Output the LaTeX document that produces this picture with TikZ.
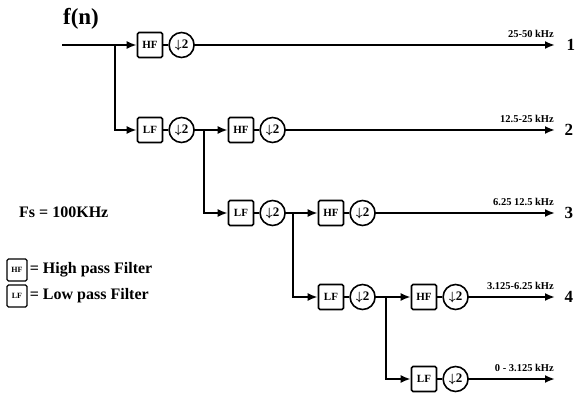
\documentclass[tikz,border=0pt]{standalone}
\usepackage{fontspec}
\setmainfont{Liberation Serif}
\usetikzlibrary{arrows.meta,positioning}

\begin{document}
\begin{tikzpicture}[x=1pt, y=-1pt,
    box/.style={draw, line width=1.6pt, rounded corners=1.5pt, minimum width=25pt,
                minimum height=25pt, inner sep=0pt, font=\bfseries\fontsize{11}{11}\selectfont},
    dsmp/.style={draw, circle, line width=1.6pt, minimum size=25pt, inner sep=0pt,
                 font=\bfseries\boldmath\fontsize{13}{13}\selectfont},
    wire/.style={line width=2pt},
    arr/.style={wire, -{Latex[length=10pt,width=8pt]}},
    band/.style={anchor=south east, inner sep=1pt, font=\bfseries\fontsize{10.5}{10.5}\selectfont},
    outno/.style={anchor=west, font=\bfseries\fontsize{17}{17}\selectfont},
    key/.style={anchor=west, inner sep=1pt, font=\bfseries\fontsize{16}{16}\selectfont}
]
    \useasboundingbox (0,0) rectangle (577,403);

    % input
    \node[font=\bfseries\fontsize{23}{23}\selectfont] (fn) at (81,19) {f(n)};
    \coordinate (in) at (62,45);

    % filter bank nodes
    \node[box]  (hf1) at (150,45)  {HF};
    \node[dsmp, right=5pt of hf1] (ds1) {$\downarrow$2};
    \node[box]  (lf1) at (150,130) {LF};
    \node[dsmp, right=5pt of lf1] (dl1) {$\downarrow$2};

    \node[box]  (hf2) at (241,130) {HF};
    \node[dsmp, right=5pt of hf2] (ds2) {$\downarrow$2};
    \node[box]  (lf2) at (241,213) {LF};
    \node[dsmp, right=5pt of lf2] (dl2) {$\downarrow$2};

    \node[box]  (hf3) at (331,213) {HF};
    \node[dsmp, right=5pt of hf3] (ds3) {$\downarrow$2};
    \node[box]  (lf3) at (331,297) {LF};
    \node[dsmp, right=5pt of lf3] (dl3) {$\downarrow$2};

    \node[box]  (hf4) at (424,297) {HF};
    \node[dsmp, right=5pt of hf4] (ds4) {$\downarrow$2};
    \node[box]  (lf4) at (424,379) {LF};
    \node[dsmp, right=5pt of lf4] (dl4) {$\downarrow$2};

    % branch points and outputs
    \coordinate (b1) at (115,45);
    \coordinate (b2) at (204,130);
    \coordinate (b3) at (293,213);
    \coordinate (b4) at (386,297);
    \coordinate (o1) at (555,45);
    \coordinate (o2) at (555,130);
    \coordinate (o3) at (555,213);
    \coordinate (o4) at (555,297);
    \coordinate (o5) at (555,379);

    % connections
    \draw[wire] (in) -- (b1);
    \draw[arr] (b1) -- (hf1);
    \draw[arr] (b1) |- (lf1);
    \draw[wire] (dl1) -- (b2);
    \draw[arr] (b2) -- (hf2);
    \draw[arr] (b2) |- (lf2);
    \draw[wire] (dl2) -- (b3);
    \draw[arr] (b3) -- (hf3);
    \draw[arr] (b3) |- (lf3);
    \draw[wire] (dl3) -- (b4);
    \draw[arr] (b4) -- (hf4);
    \draw[arr] (b4) |- (lf4);

    \foreach \f/\d in {hf1/ds1, lf1/dl1, hf2/ds2, lf2/dl2, hf3/ds3, lf3/dl3, hf4/ds4, lf4/dl4}
        \draw[wire] (\f) -- (\d);

    \draw[arr] (ds1) -- (o1);
    \draw[arr] (ds2) -- (o2);
    \draw[arr] (ds3) -- (o3);
    \draw[arr] (ds4) -- (o4);
    \draw[arr] (dl4) -- (o5);

    % band labels
    \node[band] (l1) at ([yshift=6pt]o1) {25-50 kHz};
    \node[band] (l2) at ([yshift=6pt]o2) {12.5-25 kHz};
    \node[band] (l3) at ([yshift=6pt]o3) {6.25 12.5 kHz};
    \node[band] (l4) at ([yshift=6pt]o4) {3.125-6.25 kHz};
    \node[band] (l5) at ([yshift=6pt]o5) {0 - 3.125 kHz};

    \node[outno] (n1) at ([xshift=8pt]o1) {1};
    \node[outno] (n2) at ([xshift=6pt]o2) {2};
    \node[outno] (n3) at ([xshift=6pt]o3) {3};
    \node[outno] (n4) at ([xshift=6pt]o4) {4};

    % legend
    \node[key] (fs) at (18,212) {Fs = 100KHz};
    \node[box, minimum width=20pt, minimum height=22pt, line width=1.3pt, font=\bfseries\fontsize{8}{8}\selectfont] (hfkey) at (17,270) {HF};
    \node[key, right=1pt of hfkey] (hftxt) {= High pass Filter};
    \node[box, minimum width=20pt, minimum height=22pt, line width=1.3pt, font=\bfseries\fontsize{8}{8}\selectfont] (lfkey) at (17,296) {LF};
    \node[key, right=1pt of lfkey] (lftxt) {= Low pass Filter};
\end{tikzpicture}
\end{document}
